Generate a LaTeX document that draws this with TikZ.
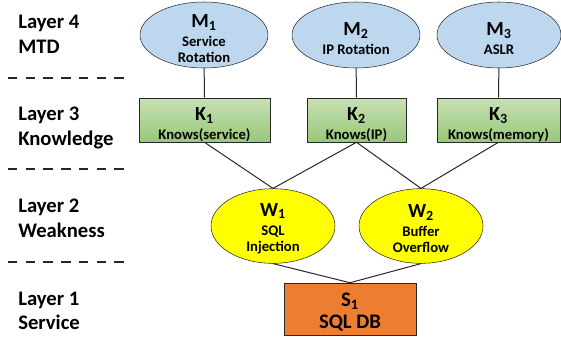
\documentclass[tikz,border=0pt]{standalone}
\usepackage{fontspec}
\setmainfont{Carlito}
\usetikzlibrary{shapes.geometric}

\definecolor{mtdblue}{RGB}{189,215,238}
\definecolor{kntop}{RGB}{198,224,180}
\definecolor{knbot}{RGB}{152,200,120}
\definecolor{wkyellow}{RGB}{255,255,0}
\definecolor{svorange}{RGB}{237,125,49}
\definecolor{edgegray}{RGB}{40,40,40}

\tikzset{
    layer/.style = {anchor = west, align = left, inner sep = 0pt,
        font = \fontsize{15.5}{18.5}\selectfont\bfseries},
    sep/.style = {line width = 2.2pt, dash pattern = on 7.1pt off 6.2pt, black!85},
    inside/.style = {align = center, inner sep = 0pt, font = \fontsize{11}{12}\selectfont\bfseries},
    mtd/.style = {ellipse, draw = edgegray, fill = mtdblue, inner sep = 0pt,
        minimum height = 49.5pt},
    mtdtext/.style = {inside, yshift = -2.6pt},
    know/.style = {rectangle, draw = edgegray, top color = kntop, bottom color = knbot,
        inner sep = 0pt, minimum height = 33pt},
    knowtext/.style = {inside, yshift = -3.4pt},
    weak/.style = {ellipse, draw = edgegray, fill = wkyellow, inner sep = 0pt,
        minimum width = 93pt, minimum height = 56pt},
    weaktext/.style = {inside, yshift = -1.9pt},
    serv/.style = {rectangle, draw = edgegray, fill = svorange, inner sep = 0pt,
        minimum width = 99pt, minimum height = 39pt},
    servtext/.style = {inside, yshift = -2.2pt, font = \fontsize{15.5}{16}\selectfont\bfseries},
    link/.style = {draw = edgegray, line width = 0.75pt}
}
\newcommand{\nodeid}[2]{{\fontsize{15}{15}\selectfont #1\textsubscript{#2}}}

\begin{document}
\begin{tikzpicture}[x = 0.75pt, y = -0.75pt, font = \bfseries]
            \useasboundingbox (0,0) rectangle (561,337);

            % Layer names and separators:
            \node [layer] (L4) at (18,34)  {Layer 4\\MTD};
            \node [layer] (L3) at (18,128) {Layer 3\\Knowledge};
            \node [layer] (L2) at (18,218) {Layer 2\\Weakness};
            \node [layer] (L1) at (18,311) {Layer 1\\Service};
            \foreach \y in {78, 169, 262}
                \draw [sep] (8,\y) -- (124,\y);

            % Layer 4:
            \node [mtd, minimum width = 96pt,
                label = {[mtdtext]center:{\nodeid{M}{1}\\[2.5pt]Service\\Rotation}}] (M1) at (204,35) {};
            \node [mtd, minimum width = 96pt,
                label = {[mtdtext]center:{\nodeid{M}{2}\\[2.5pt]IP Rotation}}] (M2) at (356,35) {};
            \node [mtd, minimum width = 93pt,
                label = {[mtdtext]center:{\nodeid{M}{3}\\[2.5pt]ASLR}}] (M3) at (499,35) {};

            % Layer 3:
            \node [know, minimum width = 98pt,
                label = {[knowtext]center:{\nodeid{K}{1}\\[2pt]Knows(service)}}] (K1) at (204.5,120) {};
            \node [know, minimum width = 74pt,
                label = {[knowtext]center:{\nodeid{K}{2}\\[2pt]Knows(IP)}}] (K2) at (356.5,120) {};
            \node [know, minimum width = 92pt,
                label = {[knowtext]center:{\nodeid{K}{3}\\[2pt]Knows(memory)}}] (K3) at (498.5,120) {};

            % Layer 2:
            \node [weak, label = {[weaktext]center:{\nodeid{W}{1}\\[2.5pt]SQL\\Injection}}] (W1) at (273,226) {};
            \node [weak, label = {[weaktext]center:{\nodeid{W}{2}\\[2.5pt]Buffer\\Overflow}}] (W2) at (421,226) {};

            % Layer 1:
            \node [serv, label = {[servtext]center:{S\textsubscript{1}\\SQL DB}}] (S1) at (350,309) {};

            % Edges:
            \draw [link] (M1) -- (K1);
            \draw [link] (M2) -- (K2);
            \draw [link] (M3) -- (K3);
            \draw [link] (K1.south) -- (W1.north);
            \draw [link] (K2.south) -- (W1.north);
            \draw [link] (K2.south) -- (W2.north);
            \draw [link] (K3.south) -- (W2.north);
            \draw [link] (W1.south) -- (S1.north);
            \draw [link] (W2.south) -- (S1.north);
        \end{tikzpicture}
\end{document}
